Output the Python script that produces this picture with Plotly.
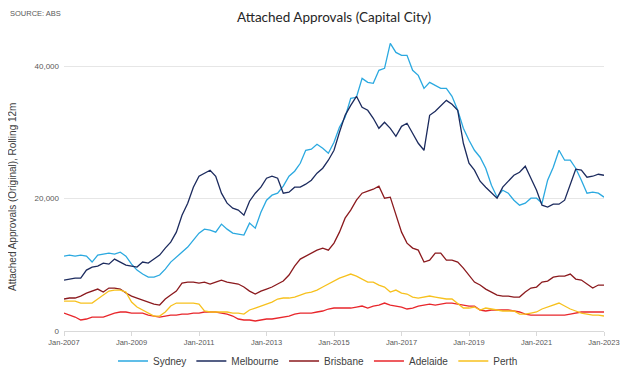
import plotly.graph_objects as go
import pandas as pd

dates = pd.date_range("2007-01-01", "2023-01-01", freq="2MS")

sydney = [11310, 11460, 11310, 11460, 11310, 10410, 11460, 11610, 11760, 11610,
          11910, 11310, 10100, 9200, 8600, 8140, 8140, 8450, 9350, 10400,
          11160, 11900, 12670, 13720, 14780, 15380, 15230, 14930, 16140, 15380,
          14780, 14630, 14480, 16290, 15530, 17940, 19750, 20510, 20810, 21870,
          23370, 24130, 25330, 27290, 27450, 28200, 27600, 26840, 28500, 30760,
          32270, 35140, 35290, 38150, 37550, 37400, 39360, 39660, 43430, 42070,
          41620, 41620, 39360, 38600, 36640, 37550, 37100, 36640, 36640, 35440,
          33330, 30610, 28800, 27290, 26240, 24580, 22020, 20210, 21260, 20810,
          19750, 19000, 19300, 20060, 20060, 19300, 22770, 24730, 27290, 25790,
          25790, 24580, 22770, 20810, 20960, 20810, 20210]

melbourne = [7690, 7840, 7990, 7990, 9200, 9650, 9800, 10250, 10100, 10860,
             10410, 9950, 9800, 9650, 10410, 10250, 10860, 11460, 12520, 13420,
             14930, 17490, 19300, 21720, 23370, 23830, 24280, 23370, 20810, 19300,
             18550, 18250, 17490, 19600, 20810, 21720, 23070, 23370, 23070, 20810,
             20960, 21720, 21720, 22170, 22770, 23830, 24580, 25790, 27290, 30010,
             32570, 34080, 35440, 33780, 33330, 32120, 30610, 31520, 30610, 29400,
             30910, 31370, 29860, 28350, 27290, 32570, 33180, 33930, 34830, 34230,
             33330, 28350, 25330, 24280, 22620, 21720, 20810, 20060, 21720, 22620,
             23520, 23980, 24880, 23070, 21260, 19000, 18700, 19150, 19150, 19750,
             22020, 24430, 24280, 23220, 23370, 23670, 23520]

brisbane = [4830, 4980, 4980, 5280, 5730, 6030, 6330, 5880, 6480, 6480,
            6330, 5730, 5280, 4980, 4680, 4370, 4070, 3920, 4830, 5430,
            6030, 7240, 7390, 7390, 7240, 7390, 7090, 7390, 7690, 7390,
            7240, 7090, 6640, 6030, 5580, 6030, 6330, 6640, 7090, 7540,
            8450, 9800, 10860, 11310, 11760, 12210, 12520, 12210, 13270, 14930,
            17040, 18250, 19750, 20810, 21110, 21410, 21870, 20060, 20210, 17490,
            14930, 13270, 12520, 12210, 10410, 10710, 11760, 11760, 10710, 10710,
            10410, 9500, 8450, 7390, 6940, 6330, 5880, 5430, 5280, 5280,
            5130, 5130, 5880, 6480, 6640, 7390, 7540, 8140, 8290, 8290,
            8600, 7840, 7690, 7090, 6480, 6940, 6940]

adelaide = [2710, 2410, 2110, 1660, 1810, 2110, 2110, 2110, 2410, 2710,
            2870, 2870, 2710, 2710, 2710, 2410, 2260, 2110, 2260, 2410,
            2410, 2560, 2560, 2710, 2710, 2870, 2870, 2870, 2710, 2560,
            2260, 1810, 1660, 1660, 1510, 1660, 1810, 1810, 1960, 2110,
            2260, 2560, 2710, 2710, 2710, 2870, 3020, 3320, 3470, 3470,
            3470, 3470, 3620, 3770, 3470, 3770, 3920, 4220, 3920, 3770,
            3620, 3320, 3470, 3770, 3920, 4070, 3920, 4070, 4220, 4220,
            4070, 3920, 3770, 3770, 3170, 3020, 3170, 3170, 3170, 3170,
            3020, 2870, 2560, 2410, 2410, 2410, 2410, 2410, 2410, 2410,
            2560, 2710, 2870, 2870, 2870, 2870, 2870]

perth = [4520, 4520, 4520, 4220, 4220, 4220, 4830, 5430, 6030, 6180,
         6180, 5880, 4370, 3620, 3170, 2710, 2260, 2260, 2870, 3770,
         4220, 4220, 4220, 4220, 4070, 3020, 2870, 2870, 2870, 2870,
         2710, 2710, 2560, 3170, 3470, 3770, 4070, 4370, 4830, 4980,
         4980, 5130, 5430, 5730, 5880, 6180, 6640, 7090, 7540, 7990,
         8290, 8600, 8290, 7840, 7390, 7390, 6940, 6640, 5880, 6180,
         5730, 5580, 5130, 4980, 5130, 5280, 5130, 4980, 4830, 4830,
         4070, 3470, 3470, 3620, 3170, 3470, 3320, 3170, 3020, 3020,
         3020, 2560, 2560, 2710, 2870, 3320, 3620, 3920, 4220, 3770,
         3320, 3020, 2710, 2560, 2410, 2410, 2260]

series_names = ["Sydney", "Melbourne", "Brisbane", "Adelaide", "Perth"]
series_values = [sydney, melbourne, brisbane, adelaide, perth]
series_colors = ["#2BA9E0", "#1C2B5E", "#8B1A1E", "#E8262B", "#F7C11E"]

y_tick_vals = [0, 20000, 40000]
y_tick_text = ["0", "20,000", "40,000"]

# The page body adds an 8px offset; the figure is sized so it fits the window.
W, H = 632, 363
L, R, T, B = 56, 36, 25, 40
PW, PH = W - L - R, H - T - B

fig = go.Figure()
for name, vals, col in zip(series_names, series_values, series_colors):
    fig.add_trace(go.Scatter(x=dates, y=vals, name=name, mode="lines",
                             line=dict(color=col, width=1.3)))

fig.update_layout(
    width=W, height=H,
    margin=dict(l=L, r=R, t=T, b=B, autoexpand=False),
    plot_bgcolor="white", paper_bgcolor="white",
    font=dict(family="Liberation Sans, Arial, sans-serif", color="#595959"),
    title=dict(text="Attached Approvals (Capital City)", x=0.5, xref="paper",
               xanchor="center", y=1 - 9 / H, yref="container", yanchor="middle",
               font=dict(family="Lato, Open Sans, sans-serif", size=13.5, color="#262626")),
    showlegend=True,
    legend=dict(orientation="h", xref="container", yref="container",
                x=(318 - 8) / W, xanchor="center", y=10 / H, yanchor="middle",
                font=dict(size=10, color="#404040"), itemwidth=30,
                bgcolor="rgba(0,0,0,0)"),
    xaxis=dict(type="date", range=["2007-01-01", "2023-01-01"],
               tickformat="%b-%Y", dtick="M24", tick0="2007-01-01",
               showgrid=False, showline=True, linecolor="#D9D9D9", linewidth=1,
               ticks="outside", ticklen=4, tickcolor="#D9D9D9",
               tickfont=dict(size=7.5, color="#595959"), zeroline=False),
    yaxis=dict(range=[0, 45000], tickvals=y_tick_vals, ticktext=y_tick_text,
               showgrid=True, gridcolor="#E6E6E6", gridwidth=1, zeroline=False,
               showline=False, ticks="", ticklabelstandoff=4,
               tickfont=dict(size=8, color="#595959")),
    annotations=[
        dict(text="SOURCE: ABS", xref="paper", yref="paper",
             x=(0 - L) / PW, y=(PH + T - 5) / PH,
             xanchor="left", yanchor="middle", showarrow=False,
             font=dict(size=7.5, color="#595959")),
        dict(text="Attached Approvals (Original), Rolling 12m", textangle=-90,
             xref="paper", yref="paper", x=(4 - L) / PW, y=(323 - 189) / PH,
             xanchor="center", yanchor="middle", showarrow=False,
             font=dict(size=10, color="#404040")),
    ],
)

fig.write_html("out.html")
